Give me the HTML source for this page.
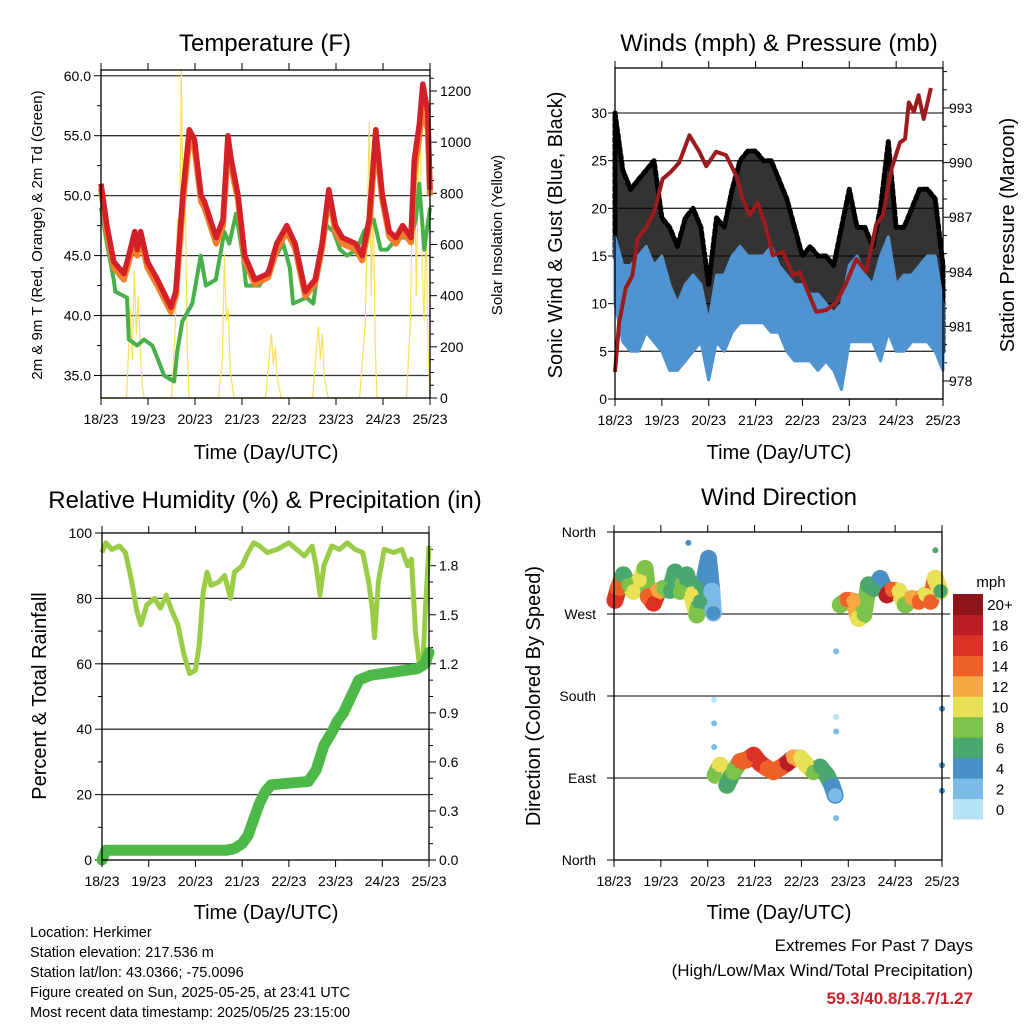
<!DOCTYPE html>
<html><head><meta charset="utf-8"><style>
body{margin:0;background:#fff}
svg{display:block;font-family:"Liberation Sans",sans-serif}
</style></head><body>
<svg id="s" width="1024" height="1024" viewBox="0 0 1024 1024">
<text x="265" y="51" font-size="24" text-anchor="middle">Temperature (F)</text>
<text x="779" y="51" font-size="24" text-anchor="middle">Winds (mph) &amp; Pressure (mb)</text>
<text x="265" y="508" font-size="24" text-anchor="middle">Relative Humidity (%) &amp; Precipitation (in)</text>
<text x="779" y="505" font-size="24" text-anchor="middle">Wind Direction</text>
<text x="266" y="459" font-size="20" text-anchor="middle">Time (Day/UTC)</text>
<text x="779" y="459" font-size="20" text-anchor="middle">Time (Day/UTC)</text>
<text x="266" y="919" font-size="20" text-anchor="middle">Time (Day/UTC)</text>
<text x="779" y="919" font-size="20" text-anchor="middle">Time (Day/UTC)</text>
<text transform="translate(42,235) rotate(-90)" font-size="15" text-anchor="middle">2m &amp; 9m T (Red, Orange) &amp; 2m Td (Green)</text>
<text transform="translate(502,235) rotate(-90)" font-size="15" text-anchor="middle">Solar Insolation (Yellow)</text>
<text transform="translate(562,235) rotate(-90)" font-size="20" text-anchor="middle">Sonic Wind &amp; Gust (Blue, Black)</text>
<text transform="translate(1014,235) rotate(-90)" font-size="20" text-anchor="middle">Station Pressure (Maroon)</text>
<text transform="translate(46,696) rotate(-90)" font-size="20" text-anchor="middle">Percent &amp; Total Rainfall</text>
<text transform="translate(540,696) rotate(-90)" font-size="20" text-anchor="middle">Direction (Colored By Speed)</text>
<g font-size="14.5">
<text x="30" y="937">Location: Herkimer</text>
<text x="30" y="957">Station elevation: 217.536 m</text>
<text x="30" y="977">Station lat/lon: 43.0366; -75.0096</text>
<text x="30" y="997">Figure created on Sun, 2025-05-25, at 23:41 UTC</text>
<text x="30" y="1017">Most recent data timestamp: 2025/05/25 23:15:00</text>
</g>
<text x="973" y="951" font-size="17" text-anchor="end">Extremes For Past 7 Days</text>
<text x="973" y="976" font-size="17" text-anchor="end">(High/Low/Max Wind/Total Precipitation)</text>
<text x="973" y="1004" font-size="17" font-weight="bold" fill="#c8242b" text-anchor="end">59.3/40.8/18.7/1.27</text>
<text x="991" y="587" font-size="15" text-anchor="middle">mph</text>
</svg>
<script>
// ---- Temperature data ----
const tempHours=[0,3,6.5,11.7,14.2,17.2,18.5,20.2,23.7,28.8,35.7,38.2,41.7,45.1,47.7,51.1,52.8,58.8,62.3,64.8,66.5,70,73.4,78.6,85.4,89.7,94.9,99.1,104.3,109.4,112.9,116.3,119.7,123.2,130,133.4,136.9,140.3,143.7,147.2,150.6,154,158.3,160,162.6,164.3,166.9,168];
const temp2m=[51,47.5,44.5,43.5,45,47,45.5,47,44.5,43,40.7,42,50,55.5,54.7,50,49.5,46.5,48,55,53,50,45,43,43.5,46,47.5,46,42,43,46,50.5,47.5,46.5,46,45,48,55.5,50,47,46.5,47.5,46.5,53,56,59.3,57,50.5];
const temp9m=[50.6,47,44,43,44.5,46.4,45,46.5,44,42.5,40.3,41.6,49.2,54.6,54,49.5,49,46,47.5,54,52.4,49.6,44.6,42.6,43.2,45.5,47,45.6,41.6,42.7,45.6,50,47,46,45.5,44.6,47.5,54.5,49.6,46.6,46,47,46.1,52,55,57.5,55.5,50];
const dewHours=[0,3,6.5,7.3,13.3,14.2,18.5,21.9,26.2,28.7,32.2,37.4,38.9,41.5,46.6,50.9,53.5,58.6,63,65.5,69,72.4,74.1,80.9,87.8,93,96.4,98.1,105,108.4,111.8,115.3,118.7,122.1,125.6,130.7,134.2,139.3,142.8,146.2,151.3,158.2,160.8,162.5,165.1,167.6,168];
const dewVals=[49,46,43,42,41.5,38,37.5,38,37.5,36.5,35,34.5,37,39.5,41,45,42.5,43,47,46,48.5,45,42.5,42.5,44.5,46,44,41,41.5,41,45,47.5,47,45.5,45,45.5,47,48,45.5,45.5,46.5,46.5,48,51,45.5,48.5,49];
const solarHours=[0,13,15,16,17,18,19,20,21,22,36,38,39,40,41,42,43,44,45,60,62,63,64,65,66,68,84,87,88,89,90,92,108,111,112,113,114,116,132,135,136,137,138,139,140,141,156,158,159,160,161,162,163,164,165,166,167,168];
const solarVals=[0,0,350,150,500,250,400,200,60,0,0,300,700,400,1290,600,800,200,0,0,150,560,300,350,100,0,0,250,130,200,80,0,0,280,150,250,80,0,0,300,700,1080,400,800,200,0,0,300,800,1000,400,900,1090,500,300,700,200,0];
const tempTicks=[35,40,45,50,55,60];
const tempTickLabels=["35.0","40.0","45.0","50.0","55.0","60.0"];
const solarTicks=[0,200,400,600,800,1000,1200];
const dayLabels=["18/23","19/23","20/23","21/23","22/23","23/23","24/23","25/23"];
// ---- Wind data ----
const presHours=[0,2.1,5.5,8.9,11.5,15.8,20.1,24.4,28.7,32.9,38.1,43.2,46.7,51.8,56.9,62,65.4,68.9,73.1,77.4,80.8,86,91.1,94.5,99.6,103.1,108.2,113.3,118.5,123.6,128.7,133.8,137.2,141.8,145.9,148.6,150.5,153.1,155.5,158.1,161.8];
const presVals=[978.5,981.2,983.1,983.8,985.8,986.4,987.3,989.1,989.5,990,991.5,990.6,989.8,990.6,990.4,989.3,988,987.1,987.8,986.4,984.9,985.1,983.8,984,982.7,981.8,981.9,982.3,983.4,984.7,984,986.6,987.1,989.7,991.1,991.3,993.3,992.8,993.7,992.4,994.1];
const windHours=[0,4,8,12,16,20,24,28,32,36,40,44,48,52,56,60,64,68,72,76,80,84,88,92,96,100,104,108,112,116,120,124,128,132,136,140,144,148,152,156,160,164,168];
const sustLo=[10,6,5,5,7,6,5,3,3,4,5,6,2,6,5,7,8,8,8,8,7,7,5,4,4,4,3,4,3,1,6,6,6,6,4,7,5,5,6,6,6,5,3];
const sustHi=[17,14,14,15,16,14,15,12,10,12,13,12,8,13,13,15,16,15,15,15,16,14,13,12,12,11,11,10,9,10,14,15,13,12,15,17,12,13,13,14,15,15,10];
const gustLo=[15,12,12,12,12,10,8,7,7,10,10,10,4,8,10,11,13,13,14,13,12,10,8,7,7,6,6,6,5,4,10,9,9,8,8,12,8,9,10,12,12,10,5];
const gustHi=[30,24,22,23,24,25,19,18,16,19,20,18,12,19,18,22,25,26,26,25,25,23,21,18,15,16,15,15,14,18,22,18,18,16,20,27,18,18,20,22,22,21,14];
const windTicks=[0,5,10,15,20,25,30];
const presTicks=[978,981,984,987,990,993];
// ---- RH / rain data ----
const rhHours=[0,2,5,9,12,15,18,20,23,27,30,33,36,39,42,45,48,50,52,54,56,60,63,66,68,72,75,78,81,85,90,96,100,104,108,110,112,114,118,122,126,130,134,137,139,140,142,145,150,154,157,159,161,163,165,166,168];
const rhVals=[94,97,95,96,94,86,76,72,78,80,77,81,76,72,63,57,58,66,82,88,84,85,87,80,88,90,94,97,96,94,95,97,95,93,96,90,81,90,96,95,97,95,94,85,76,68,85,95,94,95,90,92,70,60,62,75,96];
const rainHours=[0,2,64,68,72,75,78,81,84,87,96,106,110,114,118,121,124,128,132,138,150,162,166,168];
const rainVals=[0,0.06,0.06,0.07,0.1,0.15,0.25,0.35,0.42,0.46,0.47,0.48,0.55,0.7,0.78,0.85,0.9,1.0,1.1,1.13,1.15,1.17,1.2,1.27];
const rhTicks=[0,20,40,60,80,100];
const rainTicks=[0,0.3,0.6,0.9,1.2,1.5,1.8];
const rainTickLabels=["0.0","0.3","0.6","0.9","1.2","1.5","1.8"];
// ---- Wind direction data ----
const dirHours=[0.5,2.2,4.8,7.3,9.9,13.3,15.9,17.6,20.2,22.7,25.3,28.7,31.3,33.8,37.2,39.8,42.4,44.1,46.7,48.4,50.1,50.9,51.8,54.4,57.8,61.2,64.6,68,71.5,74.9,78.3,81.7,85.1,88.5,91.9,95.4,98.8,102.2,105.6,109,111.6,113.3,115.9,119.3,122.7,125.3,127.9,130.4,133,136.4,139.8,142.4,145.8,149.2,152.6,156.1,159.5,162.1,164.6,167.2];
const dirVals=[285,298,313,302,295,307,320,289,282,295,298,296,316,295,313,291,269,284,313,331,295,271,93,104,82,97,108,110,115,106,101,97,101,106,112,112,104,97,102,93,82,71,280,285,284,265,269,302,298,309,291,296,295,280,287,284,291,284,309,295];
const dirSpeed=[17,14,7,9,11,10,8,15,16,13,8,7,6,8,6,10,9,7,5,4,3,4,8,10,7,9,14,15,17,16,14,14,14,18,12,11,10,8,6,7,5,3,8,15,12,10,8,7,6,5,18,14,10,8,12,14,11,15,10,6];
const outHours=[38.1,51.3,51.3,51.3,113.8,113.8,113.8,113.8,164.6,168,168,168];
const outDirs=[348,176,150,124,46,141,157,229,340,166,104,76];
const outSpeed=[4,1,2,2,2,2,1,2,6,4,4,4];
const dirTicks=[0,90,180,270,360];
const dirTickLabels=["North","East","South","West","North"];
const cbLabels=["0","2","4","6","8","10","12","14","16","18","20+"];
const cbColors=["#b6e3f8","#7bbbe5","#4a8fc6","#4aa86e","#7dc24a","#e8e055","#f7a843","#f0612a","#dc3226","#bb1d24","#8f1419"];

const NS="http://www.w3.org/2000/svg";
const svg=document.getElementById('s');
function el(tag,attrs,parent){const e=document.createElementNS(NS,tag);for(const k in attrs)e.setAttribute(k,attrs[k]);(parent||svg).appendChild(e);return e;}
function grp(name){const g=el('g',{});return g;}
function pathFrom(xs,ys,fx,fy){let d='';for(let i=0;i<xs.length;i++)d+=(i?'L':'M')+fx(xs[i]).toFixed(1)+' '+fy(ys[i]).toFixed(1);return d;}
function speedColor(s){let i=Math.floor(s/2);if(i<0)i=0;if(i>10)i=10;return cbColors[i];}

function frame(name,L,R,T,B,fx){
  const g=grp(name);
  const r=el('rect',{x:L,y:T,width:R-L,height:B-T,fill:'none',stroke:'#000','stroke-width':1.3},g);
  
  for(let d=0;d<=7;d++){const x=fx(d*24);
    el('line',{x1:x,y1:B,x2:x,y2:B+7,stroke:'#000'},g);
    el('line',{x1:x,y1:T,x2:x,y2:T-7,stroke:'#000'},g);
    const t=el('text',{x:x,y:B+26,'font-size':14,'text-anchor':'middle'},g);t.textContent=dayLabels[d];
    }
  return g;
}

// ===== Panel 1: Temperature =====
(function(){
const L=101,R=430,T=70,B=398;
const fx=h=>L+h*(R-L)/168, fy=v=>375.5-(v-35)*11.99, fs=v=>398-v*(398-91)/1200;
const g=grp('temperature-chart');
tempTicks.forEach((v,i)=>{const y=fy(v);
  const ln=el('line',{x1:L,x2:R,y1:y,y2:y,stroke:'#333','stroke-width':1.3},g);
  el('line',{x1:L-7,x2:L,y1:y,y2:y,stroke:'#000'},g);
  const t=el('text',{x:L-10,y:y+5,'font-size':14,'text-anchor':'end'},g);t.textContent=tempTickLabels[i];
  const m=fy(v+2.5);if(m>T)el('line',{x1:L-4,x2:L,y1:m,y2:m,stroke:'#000'},g);});
solarTicks.forEach(v=>{const y=fs(v);el('line',{x1:R,x2:R+7,y1:y,y2:y,stroke:'#000'},g);
  const t=el('text',{x:R+10,y:y+5,'font-size':14},g);t.textContent=String(v);
  for(let k=1;k<4;k++){const m=fs(v+k*50);if(m>T)el('line',{x1:R,x2:R+4,y1:m,y2:m,stroke:'#000'},g);}});
const sol=el('path',{d:pathFrom(solarHours,solarVals,fx,v=>Math.max(T,fs(v))),fill:'none',stroke:'#f9e05c','stroke-width':1.2},g);

const dew=el('path',{d:pathFrom(dewHours,dewVals,fx,fy),fill:'none',stroke:'#47b04a','stroke-width':4,'stroke-linejoin':'round'},g);

const t9=el('path',{d:pathFrom(tempHours,temp9m,fx,fy),fill:'none',stroke:'#f2802a','stroke-width':6,'stroke-linejoin':'round'},g);

const t2=el('path',{d:pathFrom(tempHours,temp2m,fx,fy),fill:'none',stroke:'#d42027','stroke-width':5.5,'stroke-linejoin':'round'},g);

frame('temperature-axes',L,R,T,B,fx);
})();

// ===== Panel 2: Winds & Pressure =====
(function(){
const L=615,R=943,T=68,B=399;
const fx=h=>L+h*(R-L)/168, fy=v=>399-v*(399-113)/30, fp=p=>381-(p-978)*(381-108)/15;
const g=grp('winds-chart');
windTicks.forEach(v=>{const y=fy(v);
  const ln=el('line',{x1:L,x2:R,y1:y,y2:y,stroke:'#333','stroke-width':1.3},g);
  el('line',{x1:L-7,x2:L,y1:y,y2:y,stroke:'#000'},g);
  const t=el('text',{x:L-8,y:y+5,'font-size':14,'text-anchor':'end'},g);t.textContent=String(v);});
presTicks.forEach(v=>{const y=fp(v);el('line',{x1:R,x2:R+7,y1:y,y2:y,stroke:'#000'},g);
  const t=el('text',{x:R+6,y:y+5,'font-size':14},g);t.textContent=String(v);
  for(let k=1;k<3;k++){const m=fp(v+k);if(m>T)el('line',{x1:R,x2:R+4,y1:m,y2:m,stroke:'#000'},g);}});
function band(lo,hi){let d='';windHours.forEach((h,i)=>{d+=(i?'L':'M')+fx(h).toFixed(1)+' '+fy(hi[i]).toFixed(1);});
  for(let i=windHours.length-1;i>=0;i--)d+='L'+fx(windHours[i]).toFixed(1)+' '+fy(lo[i]).toFixed(1);return d+'Z';}
const gb=el('path',{d:band(gustLo,gustHi),fill:'#000','fill-opacity':0.8,stroke:'#000','stroke-width':5,'stroke-linejoin':'round','stroke-dasharray':'4 3','stroke-linecap':'round'},g);

const sb=el('path',{d:band(sustLo,sustHi),fill:'#4f94d0',stroke:'#4f94d0','stroke-width':3,'stroke-linejoin':'round'},g);

const pl=el('path',{d:pathFrom(presHours,presVals,fx,fp),fill:'none',stroke:'#9b1b1e','stroke-width':4,'stroke-linejoin':'round'},g);

frame('winds-axes',L,R,T,B,fx);
})();

// ===== Panel 3: RH & Rain =====
(function(){
const L=102,R=429,T=533,B=860;
const fx=h=>L+h*(R-L)/168, fy=v=>B-v*(B-T)/100, fr=v=>B-v*(B-T)/2;
const g=grp('humidity-chart');
rhTicks.forEach(v=>{const y=fy(v);
  if(v>0&&v<100){const ln=el('line',{x1:L,x2:R,y1:y,y2:y,stroke:'#333','stroke-width':1.3},g);}
  el('line',{x1:L-7,x2:L,y1:y,y2:y,stroke:'#000'},g);
  const t=el('text',{x:L-10,y:y+5,'font-size':14,'text-anchor':'end'},g);t.textContent=String(v);
  const m=fy(v+10);if(m>T)el('line',{x1:L-4,x2:L,y1:m,y2:m,stroke:'#000'},g);});
rainTicks.forEach((v,i)=>{const y=fr(v);el('line',{x1:R,x2:R+7,y1:y,y2:y,stroke:'#000'},g);
  const t=el('text',{x:R+10,y:y+5,'font-size':14},g);t.textContent=rainTickLabels[i];
  for(let k=1;k<3;k++){const m=fr(v+k*0.1);if(m>T)el('line',{x1:R,x2:R+4,y1:m,y2:m,stroke:'#000'},g);}});
const rl=el('path',{d:pathFrom(rhHours,rhVals,fx,fy),fill:'none',stroke:'#9acd45','stroke-width':5,'stroke-linejoin':'round'},g);

const rn=el('path',{d:pathFrom(rainHours,rainVals,fx,fr),fill:'none',stroke:'#4cb848','stroke-width':11,'stroke-linejoin':'round','stroke-linecap':'round'},g);

frame('humidity-axes',L,R,T,B,fx);
})();

// ===== Panel 4: Wind direction =====
(function(){
const L=614,R=942,T=532,B=860;
const fx=h=>L+h*(R-L)/168, fy=d=>B-d*(B-T)/360;
const g=grp('wind-direction-chart');
dirTicks.forEach((v,i)=>{const y=fy(v);
  if(v>0&&v<360){const ln=el('line',{x1:L,x2:R+8,y1:y,y2:y,stroke:'#333','stroke-width':1.3},g);}
  el('line',{x1:L-7,x2:L,y1:y,y2:y,stroke:'#000'},g);
  const t=el('text',{x:L-18,y:y+5,'font-size':14,'text-anchor':'end'},g);t.textContent=dirTickLabels[i];});
for(let i=0;i<dirHours.length-1;i++){
  if(dirHours[i+1]-dirHours[i]<6&&Math.abs(dirVals[i+1]-dirVals[i])<45){
    const s=el('line',{x1:fx(dirHours[i]),y1:fy(dirVals[i]),x2:fx(dirHours[i+1]),y2:fy(dirVals[i+1]),stroke:speedColor(dirSpeed[i]),'stroke-width':17,'stroke-linecap':'round'},g);
    }}
dirHours.forEach((h,i)=>{const c=el('circle',{cx:fx(h),cy:fy(dirVals[i]),r:7,fill:speedColor(dirSpeed[i])},g);
  });
outHours.forEach((h,i)=>{const c=el('circle',{cx:fx(h),cy:fy(outDirs[i]),r:3,fill:speedColor(outSpeed[i])},g);
  });
frame('wind-direction-axes',L,R,T,B,fx);
const cb=grp('speed-colorbar');
const hh=(819-594)/11;
cbColors.forEach((c,i)=>{const y=819-(i+1)*hh;
  const r=el('rect',{x:953,y:y,width:30,height:hh+0.5,fill:c},cb);
  const t=el('text',{x:1000,y:y+hh/2+6,'font-size':15,'text-anchor':'middle'},cb);t.textContent=cbLabels[i];});
})();
</script>
</body></html>
